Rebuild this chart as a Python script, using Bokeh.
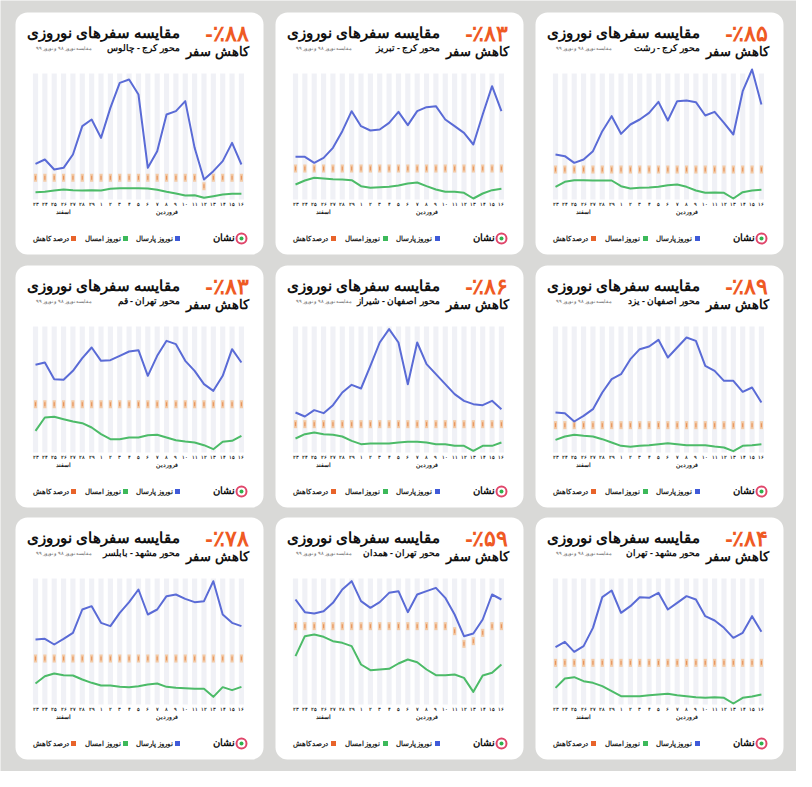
from bokeh.plotting import figure
from bokeh.models import Range1d, BoxAnnotation, Label
from bokeh.core.properties import value
from bokeh.embed import file_html
from bokeh.resources import INLINE

# ---------------- data ----------------
days = ["۲۳", "۲۴", "۲۵", "۲۶", "۲۷", "۲۸", "۲۹",
        "۱", "۲", "۳", "۴", "۵", "۶", "۷", "۸", "۹", "۱۰",
        "۱۱", "۱۲", "۱۳", "۱۴", "۱۵", "۱۶"]
months = ["اسفند", "فروردین"]
month_at = [3, 14]

title_text = "مقایسه سفرهای نوروزی"
compare_text = "مقایسه نوروز ۹۸ و نوروز ۹۹"
drop_text = "کاهش سفر"
legend_texts = ["نوروز پارسال", "نوروز امسال", "درصد کاهش"]
brand_text = "نشان"

routes = ["محور کرج - چالوس", "محور کرج - تبریز", "محور کرج - رشت",
          "محور تهران - قم", "محور اصفهان - شیراز", "محور اصفهان - یزد",
          "محور مشهد - بابلسر", "محور تهران - همدان", "محور مشهد - تهران"]
drops = ["-٪۸۸", "-٪۸۳", "-٪۸۵", "-٪۸۳", "-٪۸۶", "-٪۸۹", "-٪۷۸", "-٪۵۹", "-٪۸۴"]

blue_chalus = [107, 120, 90, 95, 135, 220, 240, 185, 275, 350, 360, 315, 95, 145, 255, 265, 295, 155, 60, 85, 115, 170, 105]
green_chalus = [22, 23, 27, 30, 28, 27, 28, 27, 32, 34, 34, 34, 33, 29, 23, 18, 12, 13, 5, 10, 15, 17, 17]
tags_chalus = [65, 65, 65, 65, 65, 65, 65, 65, 65, 65, 65, 65, 65, 65, 65, 65, 65, 65, 40, 65, 65, 65, 65]

blue_tabriz = [128, 128, 110, 125, 155, 205, 265, 220, 207, 210, 230, 263, 223, 265, 277, 280, 240, 220, 200, 165, 255, 340, 265]
green_tabriz = [45, 57, 65, 63, 61, 60, 58, 40, 35, 37, 38, 42, 48, 51, 40, 30, 23, 23, 20, 3, 18, 28, 32]
tags_tabriz = [93] * 23

blue_rasht = [135, 130, 110, 120, 145, 205, 250, 197, 225, 240, 260, 293, 237, 295, 297, 292, 252, 263, 230, 195, 325, 390, 285]
green_rasht = [38, 53, 58, 58, 57, 57, 57, 40, 33, 35, 36, 38, 43, 45, 38, 27, 20, 21, 20, 3, 22, 27, 29]
tags_rasht = [90] * 23

blue_qom = [263, 270, 220, 218, 245, 283, 315, 275, 277, 290, 303, 307, 230, 290, 335, 325, 275, 245, 205, 185, 230, 310, 270]
green_qom = [65, 105, 107, 100, 93, 88, 75, 55, 40, 40, 45, 45, 52, 53, 45, 37, 33, 30, 22, 10, 32, 35, 50]
tags_qom = [145] * 23

blue_shiraz = [120, 108, 127, 118, 142, 180, 203, 192, 260, 330, 370, 330, 205, 330, 265, 235, 205, 175, 155, 145, 142, 155, 130]
green_shiraz = [42, 55, 60, 55, 53, 48, 35, 25, 27, 27, 27, 30, 32, 32, 30, 25, 25, 20, 20, 5, 20, 20, 30]
tags_shiraz = [85] * 23

blue_yazd = [120, 118, 93, 110, 130, 180, 220, 235, 280, 310, 318, 338, 285, 315, 345, 335, 260, 245, 215, 215, 182, 195, 150]
green_yazd = [38, 48, 53, 50, 48, 40, 30, 20, 17, 20, 22, 25, 28, 25, 22, 22, 22, 18, 15, 4, 20, 22, 25]
tags_yazd = [82] * 23

blue_babolsar = [195, 197, 180, 197, 215, 285, 295, 245, 235, 275, 307, 345, 270, 285, 325, 330, 317, 307, 310, 370, 270, 245, 235]
green_babolsar = [63, 85, 93, 88, 87, 75, 65, 57, 57, 53, 52, 55, 60, 63, 53, 50, 49, 47, 47, 23, 52, 43, 53]
tags_babolsar = [138] * 23

blue_hamedan = [315, 277, 273, 280, 305, 345, 370, 310, 290, 307, 335, 340, 277, 330, 340, 350, 320, 270, 205, 213, 255, 330, 315]
green_hamedan = [145, 205, 210, 203, 190, 185, 175, 120, 103, 105, 107, 123, 135, 127, 105, 88, 88, 90, 80, 38, 87, 95, 120]
tags_hamedan = [235, 235, 235, 235, 235, 235, 235, 235, 235, 235, 235, 235, 235, 235, 235, 235, 235, 220, 182, 190, 215, 235, 235]

blue_tehran = [172, 188, 158, 175, 230, 322, 342, 275, 295, 322, 320, 335, 285, 305, 325, 315, 265, 252, 230, 200, 215, 265, 218]
green_tehran = [50, 78, 82, 70, 65, 55, 40, 25, 25, 25, 28, 30, 32, 28, 25, 22, 20, 22, 20, 3, 20, 24, 30]
tags_tehran = [125] * 23

panels = [
    (blue_chalus, green_chalus, tags_chalus),
    (blue_tabriz, green_tabriz, tags_tabriz),
    (blue_rasht, green_rasht, tags_rasht),
    (blue_qom, green_qom, tags_qom),
    (blue_shiraz, green_shiraz, tags_shiraz),
    (blue_yazd, green_yazd, tags_yazd),
    (blue_babolsar, green_babolsar, tags_babolsar),
    (blue_hamedan, green_hamedan, tags_hamedan),
    (blue_tehran, green_tehran, tags_tehran),
]

# ---------------- layout / style ----------------
W, H = 796, 771
CARD_W, CARD_H = 248, 242
COL_X = [15, 275, 535]
ROW_Y = [12, 265, 517]
STEP = 9.36          # px per day
UNITS_PER_PX = 3.0   # value units per px
STRIPE_TOP = 378

FONT_NAME = "Noto Sans"
FONT = value(FONT_NAME)
BG = "#d9d9d7"
BLUE = "#5a6bd6"
GREEN = "#4cbb68"
ORANGE = "#ef5a24"
TAG = "#f5b070"
LRO, PDF = "\u202d", "\u202c"

idx = list(range(len(days)))

p = figure(width=W, height=H, x_range=Range1d(0, W), y_range=Range1d(0, H),
           x_axis_location=None, y_axis_location=None,
           toolbar_location=None, output_backend="svg",
           min_border=0, outline_line_color=None,
           background_fill_color=BG, border_fill_color=BG)
p.xgrid.visible = False
p.ygrid.visible = False


def Y(t):
    return H - t


def label(x, y, text, align, size, color="#111111", style="bold"):
    p.add_layout(Label(x=x, y=y, text=text, text_align=align, text_baseline="middle",
                       text_font=FONT_NAME, text_font_size=size, text_font_style=style,
                       text_color=color))


extra_x = {}
extra_y = {}

for k, (blue, green, tags) in enumerate(panels):
    r, c = divmod(k, 3)
    cx, cy = COL_X[c], ROW_Y[r]
    x0 = cx + 20
    base = cy + 187
    xn, yn = f"x{k}", f"y{k}"
    extra_x[xn] = Range1d(-x0 / STEP, (W - x0) / STEP)
    extra_y[yn] = Range1d((base - H) * UNITS_PER_PX, base * UNITS_PER_PX)

    # card
    p.add_layout(BoxAnnotation(left=cx, right=cx + CARD_W, top=Y(cy), bottom=Y(cy + CARD_H),
                               fill_color="white", fill_alpha=1.0, line_color=None,
                               border_radius=12, level="underlay"))

    # header texts
    label(cx + 164, Y(cy + 19), title_text, "right", "15px")
    label(cx + 164, Y(cy + 35), routes[k], "right", "9px")
    label(cx + 20, Y(cy + 35), compare_text, "left", "5.2px", "#666666", "normal")
    label(cx + 233, Y(cy + 19), LRO + drops[k] + PDF, "right", "22px", ORANGE)
    label(cx + 233, Y(cy + 39), drop_text, "right", "12.5px")

    # chart
    p.vbar(x=idx, top=STRIPE_TOP, bottom=0, width=0.55, fill_color="#eef0f5",
           fill_alpha=0.9, line_color=None, x_range_name=xn, y_range_name=yn)
    p.rect(x=idx, y=tags, width=0.34, height=24, fill_color=TAG, fill_alpha=0.6,
           line_color=None, x_range_name=xn, y_range_name=yn)
    p.rect(x=idx, y=tags, width=0.12, height=12, fill_color="#e0702e", fill_alpha=0.6,
           line_color=None, x_range_name=xn, y_range_name=yn)
    p.line(x=idx, y=blue, line_color=BLUE, line_width=2, line_join="round",
           x_range_name=xn, y_range_name=yn)
    p.line(x=idx, y=green, line_color=GREEN, line_width=2, line_join="round",
           x_range_name=xn, y_range_name=yn)
    p.text(x=idx, y=-13, text=days, text_align="center", text_baseline="middle",
           text_font=FONT, text_font_size="4.5px", text_font_style="bold",
           text_color="#222222", x_range_name=xn, y_range_name=yn)
    p.text(x=month_at, y=-37, text=months, text_align="center", text_baseline="middle",
           text_font=FONT, text_font_size="5.5px", text_font_style="bold",
           text_color="#222222", x_range_name=xn, y_range_name=yn)

    # legend
    ly = Y(cy + 226)
    p.scatter(x=[cx + 162, cx + 110, cx + 58], y=[ly, ly, ly], marker="square", size=5,
              fill_color=["#3f5ad8", "#3cb95a", "#e8632a"], line_color=None)
    p.text(x=[cx + 157, cx + 105, cx + 53], y=[ly, ly, ly], text=legend_texts,
           text_align="right", text_baseline="middle", text_font=FONT,
           text_font_size="7px", text_font_style="bold", text_color="#222222")
    # brand
    p.scatter(x=[cx + 226], y=[ly], marker="circle", size=10, fill_color="white",
              line_color="#e0466a", line_width=2)
    p.scatter(x=[cx + 226], y=[ly], marker="circle", size=4, fill_color="#2fb24c",
              line_color=None)
    label(cx + 219, Y(cy + 224), brand_text, "right", "10px")

p.extra_x_ranges = extra_x
p.extra_y_ranges = extra_y

open("out.html", "w").write(file_html(p, INLINE))
